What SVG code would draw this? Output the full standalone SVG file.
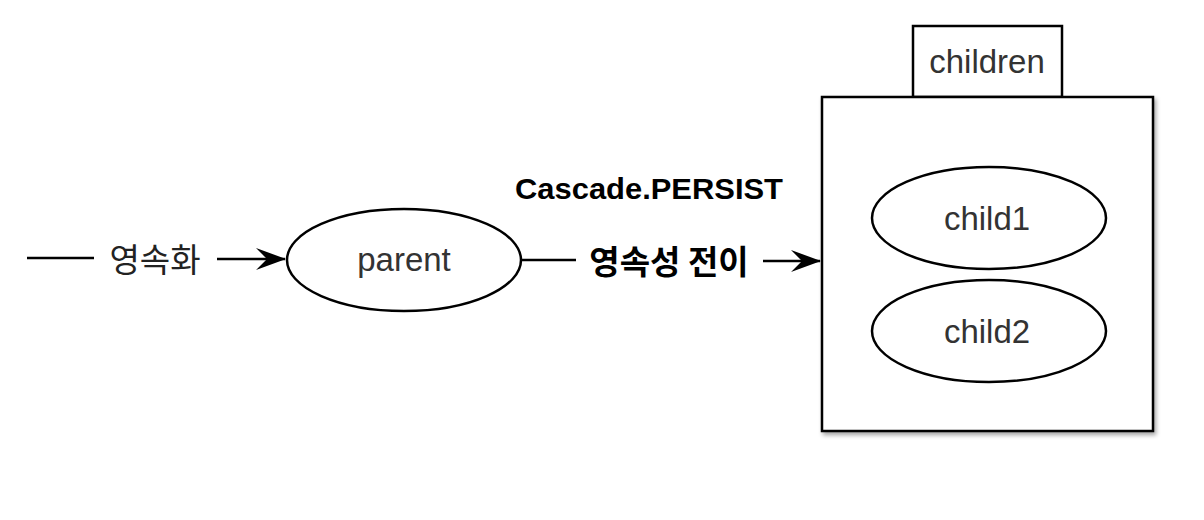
<svg xmlns="http://www.w3.org/2000/svg" width="1204" height="520" viewBox="0 0 1204 520">
<style>
.ln{stroke:#000;stroke-width:2.5;fill:none}
.sh{fill:#fff;stroke:#000;stroke-width:2.5}
.t{font-family:"Liberation Sans","Noto Sans",Arial,sans-serif;font-size:33px;fill:#333;text-anchor:middle}
.k{font-family:"Noto Sans CJK KR","Noto Sans",sans-serif;font-size:33px;fill:#222;text-anchor:middle}
.kb{font-weight:bold;fill:#000}
.c{font-family:"Liberation Sans","Noto Sans",Arial,sans-serif;font-size:30px;font-weight:bold;fill:#000;text-anchor:middle}
</style>
<defs>
<marker id="ah" markerWidth="30" markerHeight="22" refX="29" refY="11" orient="auto" markerUnits="userSpaceOnUse">
<path d="M0,0 L30,11 L0,22 L11,11 Z" fill="#000"/>
</marker>
<filter id="ds" x="-5%" y="-5%" width="110%" height="110%">
<feDropShadow dx="2" dy="3" stdDeviation="2" flood-color="#000" flood-opacity="0.35"/>
</filter>
</defs>
<rect width="1204" height="520" fill="#fff"/>
<g id="connectors">
<line class="ln" x1="27" y1="258" x2="94" y2="258"/>
<text class="k" x="155" y="272">영속화</text>
<line class="ln" x1="217" y1="259" x2="285" y2="259" marker-end="url(#ah)"/>
<line class="ln" x1="521" y1="260" x2="576" y2="260"/>
<text class="k kb" x="669" y="274">영속성 전이</text>
<line class="ln" x1="763" y1="261" x2="820" y2="261" marker-end="url(#ah)"/>
<text class="c" x="649" y="199" textLength="268" lengthAdjust="spacingAndGlyphs">Cascade.PERSIST</text>
</g>
<g id="parent">
<ellipse class="sh" cx="404" cy="260" rx="117" ry="51"/>
<text class="t" x="404" y="271">parent</text>
</g>
<g id="children">
<rect class="sh" x="913" y="26" width="149" height="71"/>
<text class="t" x="987" y="73">children</text>
<rect class="sh" x="822" y="97" width="331" height="334" filter="url(#ds)"/>
</g>
<g id="child1">
<ellipse class="sh" cx="989" cy="218" rx="117" ry="51"/>
<text class="t" x="987" y="230">child1</text>
</g>
<g id="child2">
<ellipse class="sh" cx="989" cy="331" rx="117" ry="51"/>
<text class="t" x="987" y="343">child2</text>
</g>
</svg>
